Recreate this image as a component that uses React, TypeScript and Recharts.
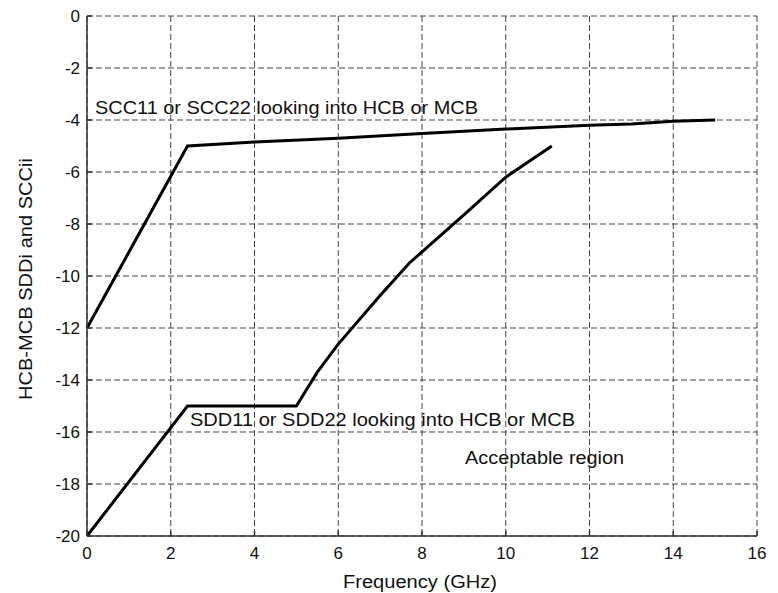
import { Label, Line, LineChart, CartesianGrid, ReferenceDot, XAxis, YAxis } from 'recharts'

const freqTicks = [0, 2, 4, 6, 8, 10, 12, 14, 16]
const dbTicks = [-20, -18, -16, -14, -12, -10, -8, -6, -4, -2, 0]

// SCC11 / SCC22 limit line
const sccFreq = [0, 2.4, 4, 6, 8, 10, 12, 13, 14, 15]
const sccVal = [-12, -5, -4.85, -4.7, -4.52, -4.35, -4.2, -4.15, -4.05, -4]

// SDD11 / SDD22 limit line
const sddFreq = [0, 2.4, 5, 5.5, 6, 7, 7.7, 9, 10, 11.1]
const sddVal = [-20, -15, -15, -13.7, -12.62, -10.75, -9.5, -7.65, -6.2, -5]

const notes = [
  { f: 0.19, v: -3.54, text: 'SCC11 or SCC22 looking into HCB or MCB', len: 383 },
  { f: 2.46, v: -15.54, text: 'SDD11 or SDD22 looking into HCB or MCB', len: 385 },
  { f: 9.03, v: -17.0, text: 'Acceptable region', len: 159 },
]

const scc = sccFreq.map((f, i) => ({ f, v: sccVal[i] }))
const sdd = sddFreq.map((f, i) => ({ f, v: sddVal[i] }))

const font = '"Liberation Sans", Arial, sans-serif'
const ink = '#111'

const axisProps = {
  stroke: '#333',
  strokeWidth: 1.5,
  tick: { fill: ink, fontSize: 17, fontFamily: font },
  tickSize: -5,
} as const

function noteContent(text: string, len: number) {
  return (props: any) => {
    const { x, y } = props.viewBox
    return (
      <text
        x={x}
        y={y}
        dy="0.355em"
        fill={ink}
        fontSize={18}
        fontFamily={font}
        textLength={len}
        lengthAdjust="spacingAndGlyphs"
      >
        {text}
      </text>
    )
  }
}

export default function App() {
  return (
    <div style={{ position: 'absolute', left: 0, top: 0, background: '#fff' }}>
      <LineChart width={778} height={593} margin={{ top: 16, right: 21, bottom: 0, left: 0 }}>
        <CartesianGrid stroke="#444" strokeDasharray="6 3" />
        <XAxis
          type="number"
          dataKey="f"
          domain={[0, 16]}
          ticks={freqTicks}
          height={57}
          tickMargin={16}
          {...axisProps}
        >
          <Label
            content={(p: any) => (
              <text
                x={p.viewBox.x + p.viewBox.width / 2 - 2}
                y={p.viewBox.y + 46}
                dy="0.355em"
                textAnchor="middle"
                fill={ink}
                fontSize={18}
                fontFamily={font}
                textLength={154}
                lengthAdjust="spacingAndGlyphs"
              >
                Frequency (GHz)
              </text>
            )}
          />
        </XAxis>
        <YAxis
          type="number"
          dataKey="v"
          domain={[-20, 0]}
          ticks={dbTicks}
          width={87}
          tickMargin={12}
          {...axisProps}
        >
          <Label
            content={(p: any) => {
              const cy = p.viewBox.y + p.viewBox.height / 2 + 3
              return (
                <text
                  x={26}
                  y={cy}
                  dy="0.355em"
                  textAnchor="middle"
                  transform={`rotate(-90 26 ${cy})`}
                  fill={ink}
                  fontSize={18}
                  fontFamily={font}
                  textLength={242}
                  lengthAdjust="spacingAndGlyphs"
                >
                  HCB-MCB SDDi and SCCii
                </text>
              )
            }}
          />
        </YAxis>
        <Line
          data={scc}
          dataKey="v"
          type="linear"
          stroke="#000"
          strokeWidth={3}
          dot={false}
          isAnimationActive={false}
        />
        <Line
          data={sdd}
          dataKey="v"
          type="linear"
          stroke="#000"
          strokeWidth={3}
          dot={false}
          isAnimationActive={false}
        />
        {notes.map((n) => (
          <ReferenceDot
            key={n.text}
            x={n.f}
            y={n.v}
            r={0}
            fill="none"
            stroke="none"
            label={noteContent(n.text, n.len)}
          />
        ))}
      </LineChart>
    </div>
  )
}
